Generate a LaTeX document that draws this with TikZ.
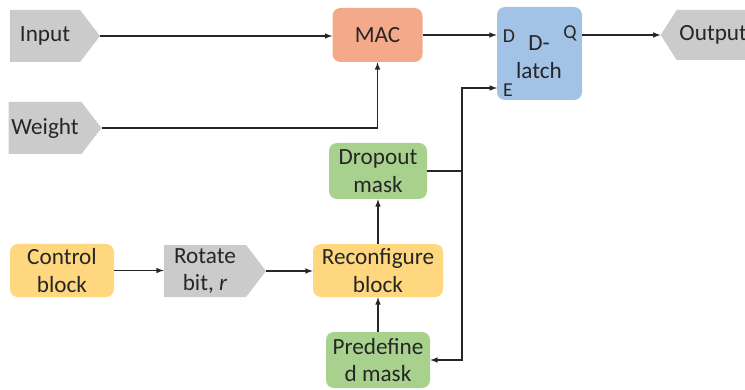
\documentclass[tikz,border=0pt]{standalone}
\usepackage{fontspec}
\setmainfont{Carlito}
\usepackage{xcolor}
\usetikzlibrary{shapes.symbols}
\usetikzlibrary{arrows}

\definecolor{tagfill}{HTML}{CBCBCB}
\definecolor{macfill}{HTML}{F5A98B}
\definecolor{latchfill}{HTML}{A2C2E6}
\definecolor{maskfill}{HTML}{A9D18E}
\definecolor{blockfill}{HTML}{FFD77F}
\definecolor{inkcol}{HTML}{262626}

\tikzset{
    tag/.style = {signal, signal to = east, signal pointer angle = 105, fill = tagfill,
        text = inkcol, align = center, inner sep = 2pt, font = \fontsize{16.5}{19.5}\selectfont},
    outtag/.style = {tag, signal to = west, signal pointer angle = 115},
    unit/.style = {rectangle, rounded corners = 0.2cm, align = center, text = inkcol,
        font = \fontsize{16.5}{19.5}\selectfont},
    pin/.style = {text = inkcol, inner sep = 0pt, font = \fontsize{14}{16}\selectfont},
    wire/.style = {line width = 0.8pt, color = inkcol, >=latex}
}

\begin{document}
\begin{tikzpicture}
                    \clip (0, 0) rectangle (18.625, 9.725);

                    \node[tag, minimum width = 2.25cm, minimum height = 1.3cm] (input) at (1.125, 8.825) {Input};
                    \node[tag, minimum width = 2.25cm, minimum height = 1.3cm] (weight) at (1.125, 6.525) {Weight};
                    \node[tag, minimum width = 2.55cm, minimum height = 1.3cm] (rotate) at (5.125, 2.95) {Rotate\\bit, \textit{r}};
                    \node[outtag, minimum width = 2.1cm, minimum height = 1.25cm] (output) at (17.83, 8.85) {Output};

                    \node[unit, fill = macfill, minimum width = 2.25cm, minimum height = 1.35cm] (mac) at (9.4375, 8.85) {MAC};
                    \node[unit, fill = latchfill, minimum width = 2.125cm, minimum height = 2.325cm] (dlatch) at (13.4875, 8.3875) {};
                    \node[unit] (dlatchtxt) at (13.475, 8.3) {D-\\latch};
                    \node[unit, fill = maskfill, minimum width = 2.45cm, minimum height = 1.4cm] (dropout) at (9.45, 5.45) {Dropout\\mask};
                    \node[unit, fill = blockfill, minimum width = 3.25cm, minimum height = 1.325cm] (reconf) at (9.45, 2.9625) {Reconfigure\\block};
                    \node[unit, fill = maskfill, minimum width = 2.6cm, minimum height = 1.4cm] (predef) at (9.45, 0.725) {Predefine\\d mask};
                    \node[unit, fill = blockfill, minimum width = 2.6cm, minimum height = 1.325cm] (control) at (1.55, 2.9625) {Control\\block};

                    \node[pin] (dpin) at (12.72, 8.825) {D};
                    \node[pin] (qpin) at (14.25, 8.9) {Q};
                    \node[pin] (epin) at (12.7, 7.475) {E};

                    \coordinate (ein) at (12.425, 7.525);
                    \coordinate (jtop) at (11.55, 7.525);
                    \coordinate (jbot) at (11.55, 0.725);

                    \draw[wire, ->] (input.east) -- (input.east -| mac.west);
                    \draw[wire, ->] (weight.east) -| (mac.south);
                    \draw[wire, ->] (mac.east) -- (mac.east -| dlatch.west);
                    \draw[wire, ->] (output.west -| dlatch.east) -- (output.west);
                    \draw[wire, ->] (control.east) -- (control.east -| rotate.west);
                    \draw[wire, ->] (rotate.east) -- (rotate.east -| reconf.west);
                    \draw[wire, ->] (reconf.north) -- (dropout.south);
                    \draw[wire, ->] (predef.north) -- (reconf.south);
                    \draw[wire] (dropout.east) -- (dropout.east -| jtop);
                    \draw[wire, <->] (ein) -- (jtop) -- (jbot) -- (predef.east);
                \end{tikzpicture}
\end{document}
